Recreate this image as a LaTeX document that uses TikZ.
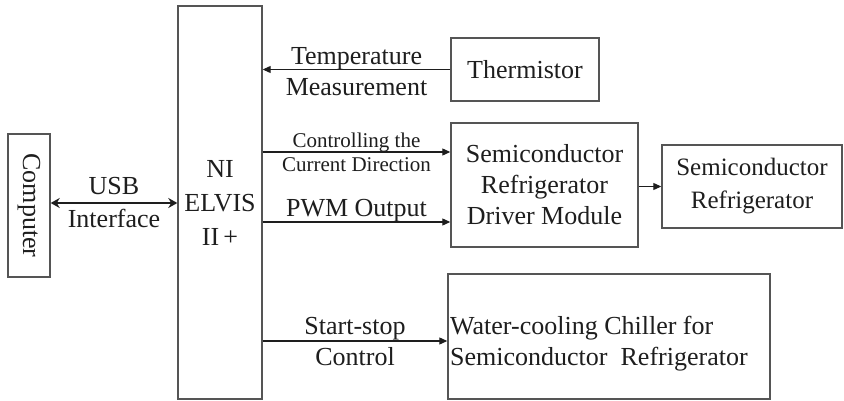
\documentclass[tikz,border=0pt]{standalone}
\usepackage{fontspec}
\setmainfont{Liberation Serif}
\usetikzlibrary{arrows.meta}
\definecolor{boxline}{HTML}{555555}
\definecolor{ink}{HTML}{1E1E1E}
\tikzset{
  blk/.style={draw=boxline, line width=1.4pt, rectangle, inner sep=0pt, text=ink, align=center,
    font=\fontsize{26}{31}\selectfont},
  conn/.style={draw=ink, line width=1.1pt, -{Triangle[length=8pt,width=7pt]}},
  usbconn/.style={draw=ink, line width=2.6pt, {Stealth[length=9pt,width=10pt]}-{Stealth[length=9pt,width=10pt]}},
  lbl/.style={inner sep=0pt, anchor=base, text=ink, font=\fontsize{26}{31}\selectfont},
  slbl/.style={inner sep=0pt, anchor=base, text=ink, font=\fontsize{21}{24}\selectfont},
}
\begin{document}
\begin{tikzpicture}[x=1pt,y=-1pt]
\useasboundingbox (0,0) rectangle (844,401);
\fill[white] (0,0) rectangle (844,401);

\node[blk, minimum width=42pt, minimum height=143pt] (comp) at (29,205.5) {};
\node[text=ink, rotate=-90, font=\fontsize{26}{31}\selectfont, inner sep=0pt] (comptext) at (comp.center) {Computer};

\node[blk, minimum width=84pt, minimum height=393pt, font=\fontsize{26}{34}\selectfont] (ni) at (220,202.5) {NI\\ELVIS\\II\,+};

\node[blk, minimum width=148pt, minimum height=63pt] (therm) at (525,69.5) {Thermistor};

\node[blk, minimum width=187pt, minimum height=124pt] (driver) at (544.5,185) {Semiconductor\\Refrigerator\\Driver Module};

\node[blk, minimum width=180pt, minimum height=83pt, font=\fontsize{25}{33}\selectfont] (semi) at (752,186.5) {Semiconductor\\Refrigerator};

\node[blk, minimum width=322pt, minimum height=125pt] (chill) at (609,336.5) {};
\node[inner sep=0pt, anchor=base west, text=ink, align=left, font=\fontsize{26}{31}\selectfont] (chilltext) at (450,365) {Water-cooling Chiller for\\Semiconductor\ \ Refrigerator};

\coordinate (yusb) at (0,203);
\coordinate (yctrl) at (0,152);
\coordinate (ypwm) at (0,222);
\coordinate (ystart) at (0,341);

\draw[usbconn] (comp.east |- yusb) -- node[lbl, yshift=8pt] (usb1) {USB} node[lbl, yshift=-24pt] (usb2) {Interface} (ni.west |- yusb);

\draw[conn] (therm.west) -- node[lbl, yshift=5pt] (t1) {Temperature} node[lbl, yshift=-26pt] (t2) {Measurement} (therm.west -| ni.east);

\draw[conn] (ni.east |- yctrl) -- node[slbl, yshift=4pt] (c1) {Controlling the} node[slbl, yshift=-20pt] (c2) {Current Direction} (driver.west |- yctrl);

\draw[conn] (ni.east |- ypwm) -- node[lbl, yshift=6pt] (p1) {PWM Output} (driver.west |- ypwm);

\draw[conn] (driver.east |- semi.west) -- (semi.west);

\draw[conn] (ni.east |- ystart) -- node[lbl, yshift=7pt] (s1) {Start-stop} node[lbl, yshift=-24pt] (s2) {Control} (chill.west |- ystart);
\end{tikzpicture}
\end{document}
